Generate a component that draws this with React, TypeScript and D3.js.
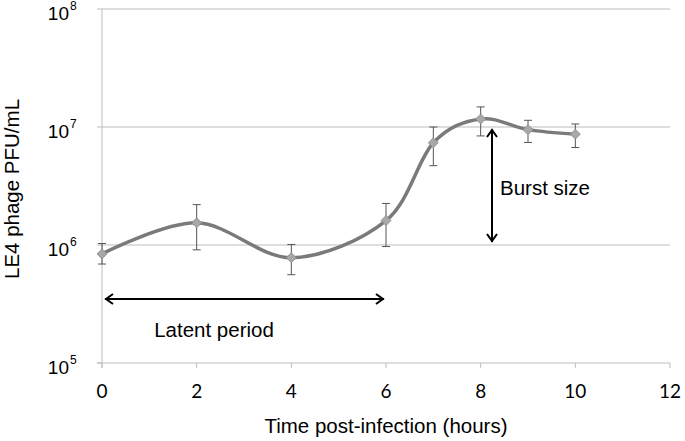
import React from "react";
import * as d3 from "d3";

const hours = [0, 2, 4, 6, 7, 8, 9, 10];
const pfu = [8.4e5, 1.54e6, 7.8e5, 1.61e6, 7.35e6, 1.17e7, 9.5e6, 8.7e6];
const errLow = [6.9e5, 9.1e5, 5.6e5, 9.7e5, 4.7e6, 8.4e6, 7.4e6, 6.7e6];
const errHigh = [1.03e6, 2.2e6, 1.01e6, 2.25e6, 1.0e7, 1.48e7, 1.14e7, 1.06e7];
const xTicks = [0, 2, 4, 6, 8, 10, 12];
const yExps = [5, 6, 7, 8];

const W = 685;
const H = 441;
const left = 102;
const right = 670;
const top = 9;
const bottom = 363;

export default function App() {
  const x = d3.scaleLinear().domain([0, 12]).range([left, right]);
  const y = d3.scaleLog().domain([1e5, 1e8]).range([bottom, top]);
  const pts: [number, number][] = hours.map((h, i) => [x(h), y(pfu[i])]);
  const line = d3.line().curve(d3.curveCardinal.tension(0))(pts) || "";
  const gridCol = "#bdbdbd";
  const font = "'Liberation Sans', Arial, sans-serif";
  const fs = 20.5;
  const ay = 299;
  const ax0 = x(0) + 3;
  const ax1 = x(6) - 2;
  const bx = 492;
  const by0 = 129;
  const by1 = 242;
  return (
    <svg width={W} height={H} style={{ position: "absolute", left: 0, top: 0 }}>
      <rect width={W} height={H} fill="#fff" />
      {yExps.map((e) => (
        <g key={e}>
          {e > 5 && (
            <line x1={left} x2={right} y1={y(10 ** e)} y2={y(10 ** e)} stroke={gridCol} strokeWidth={1} />
          )}
          <line x1={left - 5} x2={left} y1={y(10 ** e)} y2={y(10 ** e)} stroke={gridCol} strokeWidth={1} />
          <text x={left - 33} y={y(10 ** e) + 11} textAnchor="end" fontFamily={font} fontSize={19} fill="#000">
            10
          </text>
          <text x={left - 32} y={y(10 ** e) + 1} textAnchor="start" fontFamily={font} fontSize={12} fill="#000">
            {e}
          </text>
        </g>
      ))}
      <line x1={left} x2={left} y1={top} y2={bottom + 5} stroke={gridCol} strokeWidth={1} />
      <line x1={left - 5} x2={right} y1={bottom} y2={bottom} stroke={gridCol} strokeWidth={1} />
      {xTicks.map((t) => (
        <g key={t}>
          <line x1={x(t)} x2={x(t)} y1={bottom} y2={bottom + 5} stroke={gridCol} strokeWidth={1} />
          <text x={x(t)} y={398} textAnchor="middle" fontFamily="Lato, 'Open Sans', sans-serif" fontSize={19} fill="#000">
            {t}
          </text>
        </g>
      ))}
      <path d={line} fill="none" stroke="#7a7a7a" strokeWidth={3.5} />
      {hours.map((h, i) => (
        <g key={h} stroke="#555" strokeWidth={1}>
          <line x1={x(h)} x2={x(h)} y1={y(errLow[i])} y2={y(errHigh[i])} />
          <line x1={x(h) - 4} x2={x(h) + 4} y1={y(errLow[i])} y2={y(errLow[i])} />
          <line x1={x(h) - 4} x2={x(h) + 4} y1={y(errHigh[i])} y2={y(errHigh[i])} />
        </g>
      ))}
      {pts.map(([px, py], i) => (
        <path
          key={i}
          d={`M${px},${py - 5}L${px + 5},${py}L${px},${py + 5}L${px - 5},${py}Z`}
          fill="#a8a8a8"
          stroke="#8a8a8a"
          strokeWidth={0.8}
        />
      ))}
      <g stroke="#000" strokeWidth={2} fill="none">
        <line x1={ax0} x2={ax1} y1={ay} y2={ay} />
        <path d={`M${ax0 + 8},${ay - 5}L${ax0 + 1},${ay}L${ax0 + 8},${ay + 5}`} />
        <path d={`M${ax1 - 8},${ay - 5}L${ax1 - 1},${ay}L${ax1 - 8},${ay + 5}`} />
        <line x1={bx} x2={bx} y1={by0} y2={by1} />
        <path d={`M${bx - 5},${by0 + 8}L${bx},${by0 + 1}L${bx + 5},${by0 + 8}`} />
        <path d={`M${bx - 5},${by1 - 8}L${bx},${by1 - 1}L${bx + 5},${by1 - 8}`} />
      </g>
      <text x={214} y={337} textAnchor="middle" fontFamily={font} fontSize={fs} fill="#000">
        Latent period
      </text>
      <text x={500} y={195} fontFamily={font} fontSize={fs} fill="#000">
        Burst size
      </text>
      <text x={386} y={433} textAnchor="middle" fontFamily={font} fontSize={fs} fill="#000">
        Time post-infection (hours)
      </text>
      <text
        transform={`translate(19,${189}) rotate(-90)`}
        textAnchor="middle"
        fontFamily={font}
        fontSize={fs}
        fill="#000"
      >
        LE4 phage PFU/mL
      </text>
    </svg>
  );
}
